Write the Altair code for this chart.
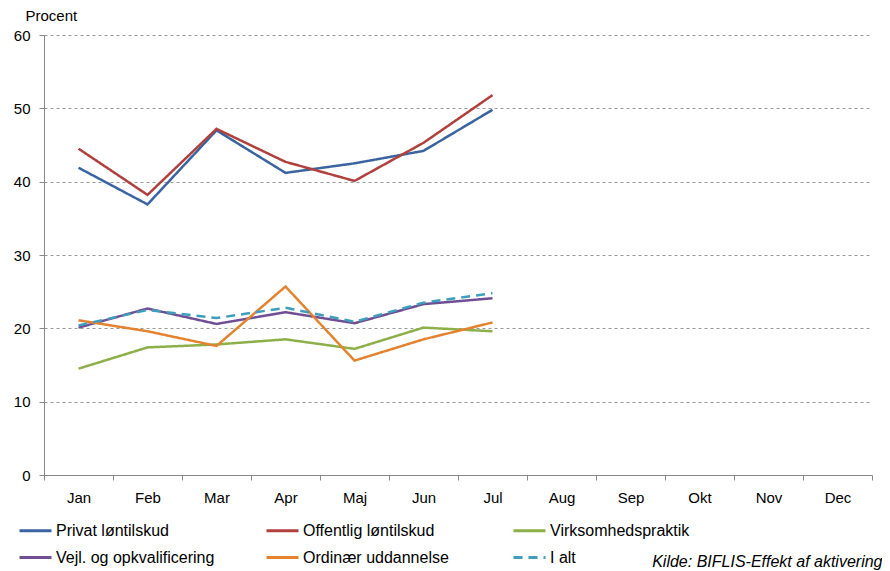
import altair as alt
import pandas as pd

months = ["Jan", "Feb", "Mar", "Apr", "Maj", "Jun", "Jul", "Aug", "Sep", "Okt", "Nov", "Dec"]
series_names = ["Privat løntilskud", "Offentlig løntilskud", "Virksomhedspraktik",
                "Vejl. og opkvalificering", "Ordinær uddannelse", "I alt"]

privat = [41.9, 36.9, 47.0, 41.2, 42.5, 44.2, 49.8]
offentlig = [44.5, 38.2, 47.2, 42.7, 40.1, 45.3, 51.8]
virksomhed = [14.5, 17.4, 17.8, 18.5, 17.2, 20.1, 19.6]
vejl = [20.1, 22.7, 20.6, 22.2, 20.7, 23.3, 24.1]
ordinaer = [21.1, 19.6, 17.6, 25.7, 15.6, 18.5, 20.8]
i_alt = [20.4, 22.5, 21.4, 22.8, 20.9, 23.5, 24.8]

colors = ["#3A64A0", "#B0403E", "#8CAF4A", "#6F4E94", "#E4832F", "#3F9EBB"]
dashes = [[1, 0], [1, 0], [1, 0], [1, 0], [1, 0], [9, 6]]

rows = []
for name, vals in zip(series_names, [privat, offentlig, virksomhed, vejl, ordinaer, i_alt]):
    for m, v in zip(months, vals):
        rows.append({"month": m, "serie": name, "value": v})
df = pd.DataFrame(rows)

FONT = "Liberation Sans"

legend = alt.Legend(
    title=None, orient="none", direction="horizontal", legendX=-26, legendY=478,
    columns=3, gridAlign="all", columnPadding=45, rowPadding=1, padding=0,
    symbolType="stroke", symbolSize=1024, symbolStrokeWidth=3,
    labelFont=FONT, labelFontSize=16, labelColor="#000", labelOffset=3,
    labelLimit=300,
)

chart = alt.Chart(df).mark_line(strokeWidth=2.5).encode(
    x=alt.X("month:N", sort=months,
            scale=alt.Scale(type="band", domain=months, paddingInner=0, paddingOuter=0),
            axis=alt.Axis(title=None, tickBand="extent", labelAngle=0, tickSize=5,
                          labelPadding=10, labelFont=FONT, labelFontSize=15,
                          labelColor="#000", domainColor="#888", tickColor="#888",
                          grid=False)),
    y=alt.Y("value:Q",
            scale=alt.Scale(domain=[0, 60], nice=False, zero=True),
            axis=alt.Axis(values=[0, 10, 20, 30, 40, 50, 60], title="Procent",
                          titleAngle=0, titleAlign="left", titleBaseline="bottom",
                          titleX=-19, titleY=-12, titleFont=FONT, titleFontSize=15,
                          titleFontWeight="normal", titleColor="#000",
                          labelFont=FONT, labelFontSize=15, labelColor="#000",
                          tickSize=5, labelPadding=9, domainColor="#888", tickColor="#888",
                          grid=True, gridColor="#999", gridDash=[3, 3], gridWidth=1)),
    color=alt.Color("serie:N", sort=series_names,
                    scale=alt.Scale(domain=series_names, range=colors), legend=legend),
    strokeDash=alt.StrokeDash("serie:N", sort=series_names,
                              scale=alt.Scale(domain=series_names, range=dashes), legend=legend),
).properties(
    width=828, height=440,
    autosize=alt.AutoSizeParams(type="none"),
    padding={"left": 36, "top": 27, "right": 10, "bottom": 96},
    title=alt.TitleParams("Kilde: BIFLIS-Effekt af aktivering", orient="bottom", anchor="end",
                          font=FONT, fontSize=16, fontStyle="italic", fontWeight="normal",
                          color="#000", offset=-12, dx=10),
).configure_view(stroke=None)

chart.save("out.html", embed_options={"renderer": "svg", "actions": False})
